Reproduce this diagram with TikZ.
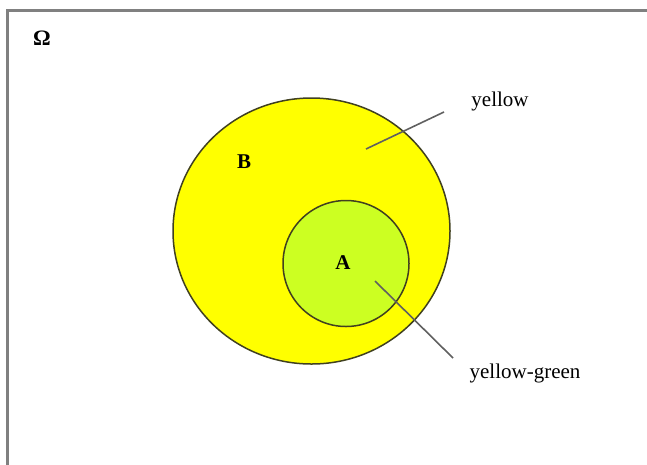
\documentclass[tikz,border=0pt]{standalone}
\usepackage{fontspec}
\setmainfont{Liberation Serif}
\usetikzlibrary{positioning,calc,shapes.geometric}
\definecolor{frame}{RGB}{128,128,128}
\definecolor{setyellow}{RGB}{255,255,0}
\definecolor{setgreen}{RGB}{204,255,34}
\definecolor{rim}{RGB}{64,64,32}
\definecolor{leader}{RGB}{96,96,96}

\begin{document}
\begin{tikzpicture}[x=1pt,y=-1pt]

		\tikzset{set/.style={draw=rim,line width=1.5pt,inner sep=0pt}}
		\tikzset{lbl/.style={inner sep=1pt,font=\fontsize{21}{24}\selectfont}}
		\tikzset{setname/.style={lbl,font=\fontsize{21}{24}\selectfont\bfseries}}
		\tikzset{line/.style={draw=leader,line width=1.6pt}}

		\useasboundingbox (0,0) rectangle (647,464);
		\draw[frame,line width=2.5pt] (7.5,10.5) rectangle (680,500);

		\node[setname,font=\fontsize{22}{24}\selectfont\bfseries] (omega) at (42,38) {Ω};

		\node[set,ellipse,fill=setyellow,minimum width=277pt,minimum height=266pt] (B) at (311.5,231) {};
		\node[set,circle,fill=setgreen,minimum size=126pt] (A) at (346,263.5) {};

		\node[setname] (Blbl) at (244,162) {B};
		\node[setname] (Albl) at (343,263) {A};

		\node[lbl] (yellow) at (500,101) {yellow};
		\node[lbl] (yg) at (525,373) {yellow-green};

		\coordinate (yellowin) at (366,149);
		\coordinate (yellowout) at (444,112);
		\coordinate (ygin) at (375,281);
		\coordinate (ygout) at (453,358);

		\path[line] (yellowin) -- (yellowout);
		\path[line] (ygin) -- (ygout);

	\end{tikzpicture}
\end{document}
